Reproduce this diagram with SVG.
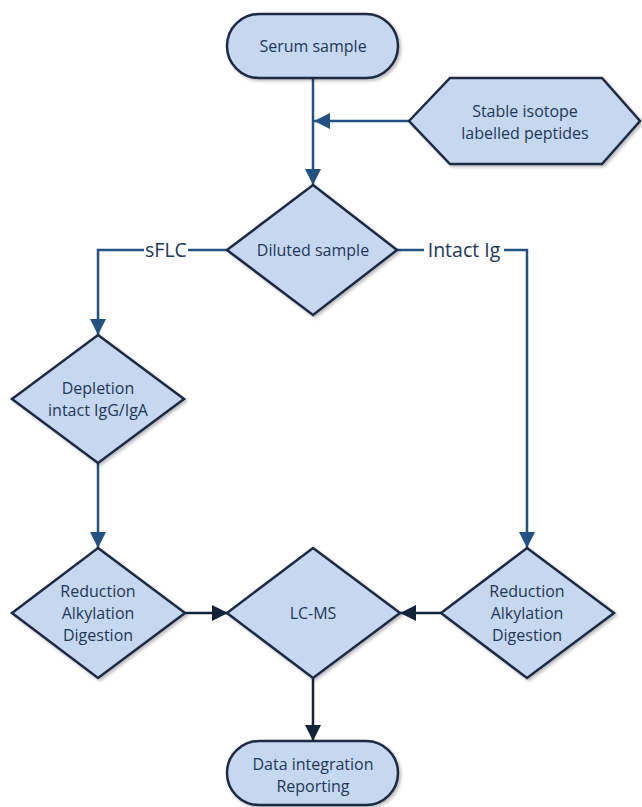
<svg xmlns="http://www.w3.org/2000/svg" width="642" height="807" viewBox="0 0 642 807">
<defs>
<style>
.node{fill:#c6d8ef;stroke:#1a2b45;stroke-width:2.5;filter:url(#sh)}
.t{font-family:"Open Sans","Liberation Sans",sans-serif;font-size:16px;fill:#1f3658;text-anchor:middle}
.lbl{font-family:"Open Sans","Liberation Sans",sans-serif;font-size:19.5px;fill:#1f3658;text-anchor:middle}
.c1{fill:none;stroke:#245183;stroke-width:2.5}
.c2{fill:none;stroke:#12233a;stroke-width:2.5}
</style>
<filter id="sh" x="-10%" y="-10%" width="130%" height="130%">
<feDropShadow dx="2" dy="2" stdDeviation="1.5" flood-color="#000" flood-opacity="0.25"/>
</filter>
<marker id="a2" markerWidth="16" markerHeight="16" refX="16" refY="8" orient="auto" markerUnits="userSpaceOnUse" viewBox="0 0 16 16">
<path d="M0,0 L16,8 L0,16 Z" fill="#12233a"/>
</marker>
<marker id="a3" markerWidth="16" markerHeight="16" refX="16" refY="8" orient="auto" markerUnits="userSpaceOnUse" viewBox="0 0 16 16">
<path d="M0,0 L16,8 L0,16 Z" fill="#245183"/>
</marker>
</defs>
<rect width="642" height="807" fill="#ffffff"/>
<g id="connectors">
<path class="c1" d="M313,78 V185" marker-end="url(#a3)"/>
<path class="c1" d="M409,121 H314" marker-end="url(#a3)"/>
<path class="c1" d="M227,250 H188 M144,250 H98 V335" marker-end="url(#a3)"/>
<path class="c1" d="M397,250 H424 M504,250 H527 V548" marker-end="url(#a3)"/>
<path class="c1" d="M98,463 V548" marker-end="url(#a3)"/>
<path class="c2" d="M185,613 H228" marker-end="url(#a2)"/>
<path class="c2" d="M441,613 H400" marker-end="url(#a2)"/>
<path class="c2" d="M313,678 V741" marker-end="url(#a2)"/>
<text class="lbl" x="166" y="257">sFLC</text>
<text class="lbl" x="464" y="257">Intact Ig</text>
</g>
<g id="serum">
<rect class="node" x="227" y="14" width="171" height="64" rx="32"/>
<text class="t" x="313" y="52">Serum sample</text>
</g>
<g id="isotope">
<polygon class="node" points="409,121 450,78 602,78 640,121 602,164 450,164"/>
<text class="t" x="525" y="117">Stable isotope</text>
<text class="t" x="525" y="139">labelled peptides</text>
</g>
<g id="diluted">
<polygon class="node" points="313,185 397,250 313,315 227,250"/>
<text class="t" x="313" y="256">Diluted sample</text>
</g>
<g id="depletion">
<polygon class="node" points="98,335 184,399 98,463 12,399"/>
<text class="t" x="98" y="394">Depletion</text>
<text class="t" x="98" y="416">intact IgG/IgA</text>
</g>
<g id="rad-left">
<polygon class="node" points="98,548 185,613 98,678 12,613"/>
<text class="t" x="98" y="597">Reduction</text>
<text class="t" x="98" y="619">Alkylation</text>
<text class="t" x="98" y="641">Digestion</text>
</g>
<g id="lcms">
<polygon class="node" points="313,548 400,613 313,678 227,613"/>
<text class="t" x="313" y="619">LC-MS</text>
</g>
<g id="rad-right">
<polygon class="node" points="527,548 614,613 527,678 441,613"/>
<text class="t" x="527" y="597">Reduction</text>
<text class="t" x="527" y="619">Alkylation</text>
<text class="t" x="527" y="641">Digestion</text>
</g>
<g id="data">
<rect class="node" x="227" y="741" width="171" height="64" rx="32"/>
<text class="t" x="313" y="770">Data integration</text>
<text class="t" x="313" y="792">Reporting</text>
</g>
</svg>
